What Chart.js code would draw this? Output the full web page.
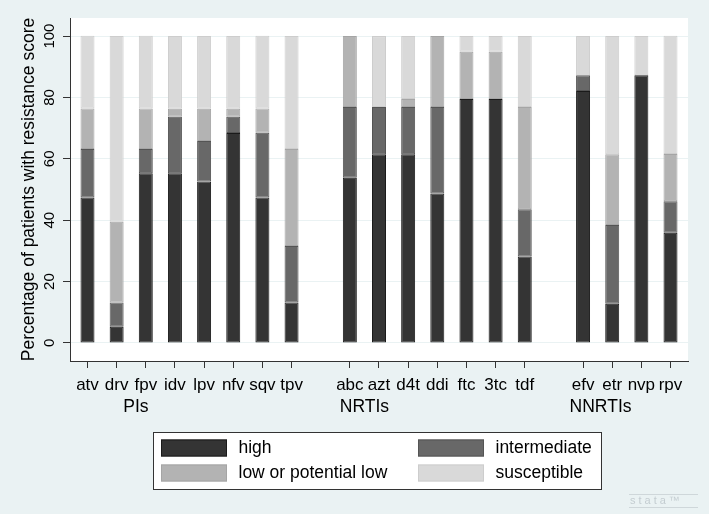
<!DOCTYPE html>
<html><head><meta charset="utf-8">
<script src="https://cdn.jsdelivr.net/npm/chart.js@4"></script>
<style>html,body{margin:0;padding:0;background:rgb(234,242,243);} canvas{display:block}</style>
</head><body><canvas id="c" width="709" height="514"></canvas>
<script>
// ---- data ----
const categories = ['atv','drv','fpv','idv','lpv','nfv','sqv','tpv','',
                    'abc','azt','d4t','ddi','ftc','3tc','tdf','',
                    'efv','etr','nvp','rpv'];
const high         = [47.4, 5.3,55.3,55.3,52.6,68.4,47.4,13.2,null, 53.8,61.5,61.5,48.7,79.5,79.5,28.2,null, 82.1,12.8,87.2,35.9];
const intermediate = [15.8, 7.9, 7.9,18.4,13.2, 5.3,21.1,18.4,null, 23.1,15.4,15.4,28.2, 0,   0,  15.4,null,  5.1,25.6, 0,  10.3];
const lowPotential = [13.2,26.3,13.2, 2.6,10.5, 2.6, 7.9,31.6,null, 23.1, 0,   2.6,23.1,15.4,15.4,33.3,null,  0,  23.1, 0,  15.4];
const susceptible  = [23.7,60.5,23.7,23.7,23.7,23.7,23.7,36.8,null,  0,  23.1,20.5, 0,   5.1, 5.1,23.1,null, 12.8,38.5,12.8,38.5];
const seriesNames = ['high','intermediate','low or potential low','susceptible'];
const groups = ['PIs','NRTIs','NNRTIs'];
const yTicks = [0,20,40,60,80,100];
const yTitle = 'Percentage of patients with resistance score';

// ---- style / layout ----
const FONT = '"Liberation Sans", Arial, Helvetica, sans-serif';
const BG = 'rgb(234,242,243)';
const fills = ['#343434','#686868','#b3b3b3','#d9d9d9'];
const strokes = ['#1a1a1a','#545454','#a5a5a5','#cdcdcd'];
const groupLabelAt = [1.66, 9.5, 17.6];

const seriesData = [high, intermediate, lowPotential, susceptible];
const tickIdx = categories.map((c,i)=>c ? i : null).filter(v=>v!==null);

const datasets = seriesData.map((arr,k)=>({
  label: seriesNames[k],
  data: arr.map((v,i)=>({x:i, y:v})),
  backgroundColor: fills[k],
  borderColor: strokes[k],
  borderWidth: 1,
  borderSkipped: false,
  categoryPercentage: 0.8,
  barPercentage: 0.6
}));

const decor = {
  id:'decor',
  beforeDraw(chart){
    const {ctx, chartArea:a} = chart;
    ctx.save();
    ctx.fillStyle = BG; ctx.fillRect(0,0,chart.width,chart.height);
    ctx.fillStyle = '#fff'; ctx.fillRect(a.left,a.top,a.right-a.left,a.bottom-a.top);
    ctx.restore();
  },
  afterDraw(chart){
    const {ctx} = chart;
    const ys = chart.scales.y, xs = chart.scales.x;
    ctx.save();
    // y tick labels (vertical)
    ctx.fillStyle = '#000';
    ctx.font = '15px ' + FONT;
    ctx.textAlign = 'center'; ctx.textBaseline = 'alphabetic';
    ys.ticks.forEach(t=>{
      const y = ys.getPixelForValue(t.value);
      ctx.save(); ctx.translate(54, y); ctx.rotate(-Math.PI/2);
      ctx.fillText(String(t.value), 0, 0); ctx.restore();
    });
    // group labels
    ctx.font = '17.5px ' + FONT;
    ctx.textBaseline = 'middle';
    groups.forEach((g,i)=>{
      ctx.fillText(g, xs.getPixelForValue(groupLabelAt[i]), 407);
    });
    // legend
    const L = 153.5, T = 432.5, W = 448, H = 57;
    ctx.fillStyle = '#fff'; ctx.fillRect(L,T,W,H);
    ctx.strokeStyle = '#333'; ctx.lineWidth = 1; ctx.strokeRect(L,T,W,H);
    const pos = [[161,439.5],[418,439.5],[161,464.5],[418,464.5]];
    chart.data.datasets.forEach((ds,k)=>{
      const [sx,sy] = pos[k];
      ctx.fillStyle = ds.backgroundColor; ctx.fillRect(sx,sy,66,17);
      ctx.strokeStyle = ds.borderColor; ctx.strokeRect(sx+0.5,sy+0.5,65,16);
      ctx.fillStyle = '#000'; ctx.textAlign = 'left'; ctx.textBaseline = 'middle';
      ctx.fillText(ds.label, sx+77.5, sy+9);
    });
    // watermark
    ctx.strokeStyle = '#cfd7da'; ctx.lineWidth = 1;
    ctx.beginPath(); ctx.moveTo(629,494.5); ctx.lineTo(698,494.5); ctx.moveTo(629,507.5); ctx.lineTo(698,507.5); ctx.stroke();
    ctx.fillStyle = '#c4cdd1'; ctx.font = '11px ' + FONT; ctx.textAlign = 'left'; ctx.textBaseline = 'middle';
    try { ctx.letterSpacing = '3px'; } catch(e) {}
    ctx.fillText('stata\u2122', 630, 501);
    ctx.restore();
  }
};

new Chart(document.getElementById('c'), {
  type: 'bar',
  data: { datasets },
  options: {
    responsive: false, animation: false,
    layout: { padding: { top: 18, right: 21, left: 0, bottom: 0 } },
    plugins: { legend: { display: false }, tooltip: { enabled: false } },
    scales: {
      x: {
        type: 'linear', stacked: true, min: -0.6, max: 20.6, offset: false,
        afterBuildTicks: s => { s.ticks = tickIdx.map(v=>({value:v})); },
        afterFit: s => { s.height = 153; },
        grid: { offset: false, drawOnChartArea: false, drawTicks: true, tickLength: 7, tickColor: '#333', lineWidth: 1 },
        border: { display: true, color: '#333', width: 1 },
        ticks: { autoSkip: false, maxRotation: 0, minRotation: 0, padding: 7, color: '#000',
                 font: { family: FONT, size: 17 }, callback: v => categories[v] ?? '' }
      },
      y: {
        stacked: true, min: -5.9, max: 105.9,
        afterBuildTicks: s => { s.ticks = yTicks.map(v=>({value:v})); },
        afterFit: s => { s.width = 70; },
        grid: { color: BG, lineWidth: 1, drawTicks: true, tickLength: 7, tickColor: '#333' },
        border: { display: true, color: '#333', width: 1 },
        ticks: { display: false },
        title: { display: true, text: yTitle, color: '#000',
                 font: { family: FONT, size: 17.5 }, padding: { top: 18.5, bottom: 0 } }
      }
    }
  },
  plugins: [decor]
});
</script></body></html>
